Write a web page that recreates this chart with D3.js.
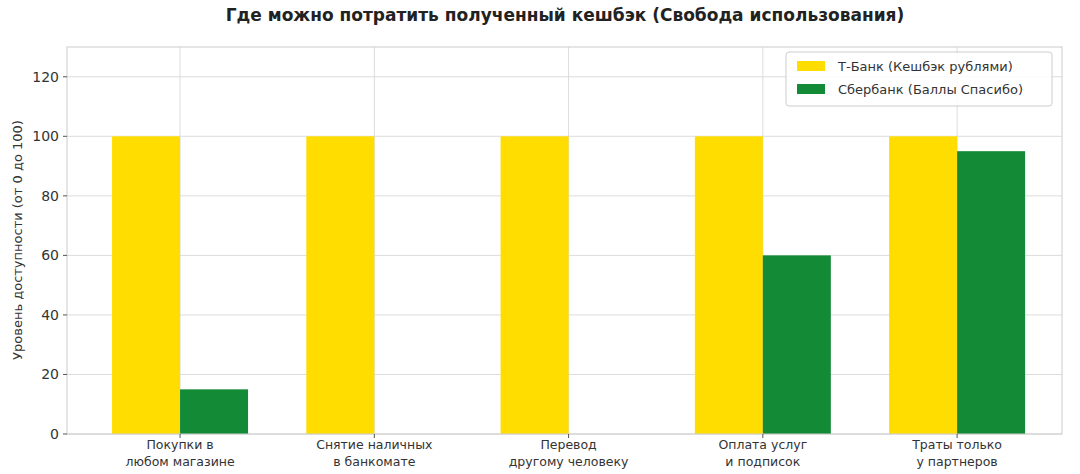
<!DOCTYPE html>
<html><head><meta charset="utf-8">
<script src="https://cdn.jsdelivr.net/npm/d3@7"></script>
<style>body{margin:0;background:#fff;font-family:"DejaVu Sans",sans-serif}</style>
</head><body><svg id="c" width="1080" height="474"></svg>
<script>
const categories = [["Покупки в","любом магазине"],["Снятие наличных","в банкомате"],["Перевод","другому человеку"],["Оплата услуг","и подписок"],["Траты только","у партнеров"]];
const tbank = [100,100,100,100,100];
const sber = [15,0,0,60,95];
const yTicks = [0,20,40,60,80,100,120];
const seriesNames = ["Т-Банк (Кешбэк рублями)","Сбербанк (Баллы Спасибо)"];
const colors = ["#FFDD00","#138A36"];

const svg = d3.select("#c");
const L=67,R=1062,T=47,B=434;
const x = d3.scaleLinear().domain([-0.582,4.54]).range([L,R]);
const y = d3.scaleLinear().domain([0,130]).range([B,T]);
const bw = 0.35;
svg.append("text").attr("x",565).attr("y",21).attr("text-anchor","middle").attr("font-weight","bold").attr("font-size",17).attr("fill","#222").text("Где можно потратить полученный кешбэк (Свобода использования)");
const g = svg.append("g");
yTicks.forEach(t=>g.append("line").attr("x1",L).attr("x2",R).attr("y1",y(t)).attr("y2",y(t)).attr("stroke","#dcdcdc"));
categories.forEach((c,i)=>g.append("line").attr("x1",x(i)).attr("x2",x(i)).attr("y1",T).attr("y2",B).attr("stroke","#dcdcdc"));
[tbank,sber].forEach((s,k)=>{
  g.selectAll(null).data(s).enter().append("rect")
   .attr("x",(d,i)=>x(i+(k===0?-bw:0))).attr("width",x(bw)-x(0))
   .attr("y",d=>y(d)).attr("height",d=>B-y(d)).attr("fill",colors[k]);
});
g.append("rect").attr("x",L).attr("y",T).attr("width",R-L).attr("height",B-T).attr("fill","none").attr("stroke","#cccccc");
yTicks.forEach(t=>{
  svg.append("line").attr("x1",L-4).attr("x2",L).attr("y1",y(t)).attr("y2",y(t)).attr("stroke","#555");
  svg.append("text").attr("x",L-8).attr("y",y(t)+5).attr("text-anchor","end").attr("font-size",14).attr("fill","#333").text(t);
});
categories.forEach((c,i)=>{
  svg.append("line").attr("x1",x(i)).attr("x2",x(i)).attr("y1",B).attr("y2",B+4).attr("stroke","#555");
  c.forEach((ln,j)=>svg.append("text").attr("x",x(i)).attr("y",B+15+j*17).attr("text-anchor","middle").attr("font-size",12.5).attr("fill","#333").text(ln));
});
svg.append("text").attr("transform","translate(22,240) rotate(-90)").attr("text-anchor","middle").attr("font-size",13).attr("fill","#333").text("Уровень доступности (от 0 до 100)");
const lg = svg.append("g");
lg.append("rect").attr("x",786).attr("y",52).attr("width",266).attr("height",54).attr("rx",3).attr("fill","#fff").attr("fill-opacity",0.85).attr("stroke","#ccc");
seriesNames.forEach((n,k)=>{
  lg.append("rect").attr("x",797).attr("y",61+k*23).attr("width",28).attr("height",10).attr("fill",colors[k]);
  lg.append("text").attr("x",838).attr("y",71+k*23).attr("font-size",13).attr("fill","#333").text(n);
});
</script></body></html>
